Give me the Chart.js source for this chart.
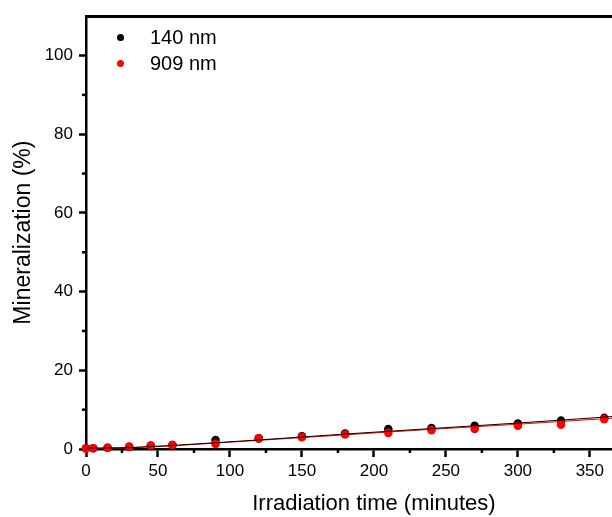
<!DOCTYPE html>
<html>
<head>
<meta charset="utf-8">
<script src="https://cdn.jsdelivr.net/npm/chart.js@4"></script>
<style>
  body { margin: 0; background: #fff; }
  #wrap { position: relative; width: 612px; height: 517px; overflow: hidden; }
  #legend { position: absolute; left: 112px; top: 24px; font: 20px 'Liberation Sans', Arial, sans-serif; color: #000; }
  #legend div { height: 26px; line-height: 26px; white-space: nowrap; }
  #legend span.dot { display: inline-block; width: 7px; height: 7px; border-radius: 50%; margin: 0 26px 2px 5px; vertical-align: middle; }
</style>
</head>
<body>
<div id="wrap">
  <canvas id="chart" width="680" height="517"></canvas>
  <div id="legend"></div>
</div>
<script>
// sampling times (minutes)
const times = [0, 5, 15, 30, 45, 60, 90, 120, 150, 180, 210, 240, 270, 300, 330, 360];
// mineralization (%)
const min140 = [0.2, 0.2, 0.3, 0.5, 0.8, 1.0, 2.3, 2.7, 3.2, 3.9, 5.1, 5.3, 5.9, 6.5, 7.2, 7.9];
const min909 = [0.1, 0.2, 0.3, 0.6, 0.9, 1.0, 1.3, 2.7, 3.0, 3.7, 4.1, 4.8, 5.1, 5.9, 6.2, 7.6];

// fitted curves
const fitTimes = [0, 30, 60, 120, 180, 240, 300, 360, 370];
const fit140 = [0.2, 0.35, 0.9, 2.3, 3.8, 5.2, 6.6, 8.1, 8.35];
const fit909 = [0.1, 0.3, 0.8, 2.2, 3.6, 5.0, 6.3, 7.7, 7.95];

const seriesNames = ['140 nm', '909 nm'];
const seriesColors = ['#000000', '#ff0000'];

const xMinor = [25, 75, 125, 175, 225, 275, 325, 375];
const yMinor = [10, 30, 50, 70, 90];

const FONT = "'Liberation Sans', Arial, sans-serif";

function pts(xs, ys) {
    return xs.map((x, i) => ({ x: x, y: ys[i] }));
}

const minorTicks = {
    id: 'minorTicks',
    afterDraw(chart) {
        const ctx = chart.ctx;
        const xs = chart.scales.x;
        const ys = chart.scales.y;
        ctx.save();
        ctx.strokeStyle = '#000';
        ctx.lineWidth = 2.5;
        xMinor.forEach(v => {
            const px = xs.getPixelForValue(v);
            ctx.beginPath();
            ctx.moveTo(px, xs.top);
            ctx.lineTo(px, xs.top + 4);
            ctx.stroke();
        });
        yMinor.forEach(v => {
            const py = ys.getPixelForValue(v);
            ctx.beginPath();
            ctx.moveTo(ys.right, py);
            ctx.lineTo(ys.right - 4, py);
            ctx.stroke();
        });
        ctx.restore();
    }
};

new Chart(document.getElementById('chart'), {
    type: 'scatter',
    data: {
        datasets: [
            {
                label: '140 nm fit', type: 'line', data: pts(fitTimes, fit140),
                borderColor: '#000', borderWidth: 1, pointRadius: 0, order: 0, clip: false
            },
            {
                label: '909 nm fit', type: 'line', data: pts(fitTimes, fit909),
                borderColor: '#ff0000', borderWidth: 1, pointRadius: 0, order: 0, clip: false
            },
            {
                label: seriesNames[1], data: pts(times, min909),
                backgroundColor: seriesColors[1], borderColor: seriesColors[1],
                pointRadius: 4.3, borderWidth: 0, order: 1, clip: false
            },
            {
                label: seriesNames[0], data: pts(times, min140),
                backgroundColor: seriesColors[0], borderColor: seriesColors[0],
                pointRadius: 4.3, borderWidth: 0, order: 2, clip: false
            }
        ]
    },
    options: {
        responsive: false,
        animation: false,
        devicePixelRatio: 1,
        layout: { padding: { top: 15, right: 14, left: 0, bottom: 0 } },
        plugins: { legend: { display: false }, tooltip: { enabled: false } },
        scales: {
            x: {
                type: 'linear', position: 'bottom', min: 0, max: 400,
                afterFit(s) { s.height = 68; },
                grid: { display: true, drawOnChartArea: false, drawTicks: true, tickLength: 8, tickWidth: 2.5, color: '#000' },
                border: { display: true, width: 2.5, color: '#000' },
                ticks: { stepSize: 50, includeBounds: false, padding: 4, color: '#000', maxRotation: 0, font: { family: FONT, size: 17 } },
                title: { display: true, text: 'Irradiation time (minutes)', color: '#000', padding: { top: 0, bottom: 0 }, font: { family: FONT, size: 22 } }
            },
            x2: {
                type: 'linear', position: 'top', min: 0, max: 400,
                afterFit(s) { s.height = 0; },
                grid: { display: false },
                border: { display: true, width: 3, color: '#000' },
                ticks: { display: false }
            },
            y: {
                type: 'linear', position: 'left', min: 0, max: 110,
                afterFit(s) { s.width = 86; },
                grid: { display: true, drawOnChartArea: false, drawTicks: true, tickLength: 7, tickWidth: 2.5, color: '#000' },
                border: { display: true, width: 2.5, color: '#000' },
                ticks: { stepSize: 20, includeBounds: false, padding: 6, color: '#000', font: { family: FONT, size: 17 } },
                title: { display: true, text: 'Mineralization (%)', color: '#000', padding: { top: 10, bottom: 10 }, font: { family: FONT, size: 23 } }
            }
        }
    },
    plugins: [minorTicks]
});

// legend inside the plot, as in the reference
const legend = document.getElementById('legend');
seriesNames.forEach((name, i) => {
    const row = document.createElement('div');
    const dot = document.createElement('span');
    dot.className = 'dot';
    dot.style.background = seriesColors[i];
    row.appendChild(dot);
    row.appendChild(document.createTextNode(name));
    legend.appendChild(row);
});
</script>
</body>
</html>
